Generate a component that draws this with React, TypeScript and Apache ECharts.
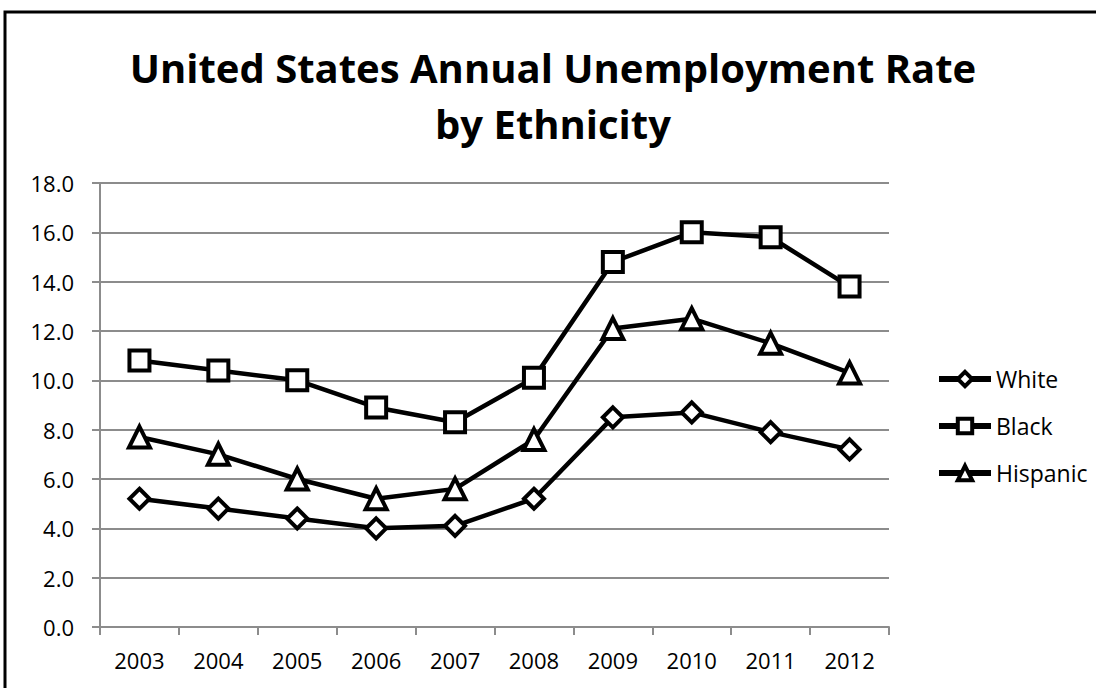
import React, { useEffect, useRef } from "react";
import * as echarts from "echarts";

const years = ["2003", "2004", "2005", "2006", "2007", "2008", "2009", "2010", "2011", "2012"];
const white = [5.2, 4.8, 4.4, 4.0, 4.1, 5.2, 8.5, 8.7, 7.9, 7.2];
const black = [10.8, 10.4, 10.0, 8.9, 8.3, 10.1, 14.8, 16.0, 15.8, 13.8];
const hispanic = [7.7, 7.0, 6.0, 5.2, 5.6, 7.6, 12.1, 12.5, 11.5, 10.3];

const FONT = "'Open Sans', 'Noto Sans', sans-serif";

export default function App() {
  const ref = useRef<HTMLDivElement>(null);
  useEffect(() => {
    if (!ref.current) return;
    const chart = echarts.init(ref.current, null, { renderer: "svg" });
    const mk = (name: string, data: number[], symbol: string, size: number) => ({
      name,
      type: "line",
      data,
      symbol,
      symbolSize: size,
      showAllSymbol: true,
      lineStyle: { color: "#000", width: 4.5 },
      itemStyle: { color: "#fff", borderColor: "#000", borderWidth: 4 },
      emphasis: { disabled: true },
    });
    chart.setOption({
      animation: false,
      backgroundColor: "#fff",
      graphic: [
        {
          type: "rect",
          shape: { x: 5, y: 12, width: 1200, height: 800 },
          style: { fill: "none", stroke: "#000", lineWidth: 3 },
          silent: true,
        },
      ],
      title: {
        text: "United States Annual Unemployment Rate\nby Ethnicity",
        left: 548,
        textAlign: "center",
        top: 34,
        textStyle: {
          fontFamily: FONT,
          fontWeight: "bold",
          fontSize: 40,
          lineHeight: 56,
          color: "#000",
        },
      },
      legend: {
        orient: "vertical",
        left: 931,
        top: 362,
        itemWidth: 52,
        itemHeight: 18,
        itemGap: 23,
        lineStyle: { color: "#000", width: 6 },
        itemStyle: { color: "#fff", borderColor: "#000", borderWidth: 4 },
        textStyle: { fontFamily: FONT, fontSize: 23, lineHeight: 24, color: "#000" },
        data: ["White", "Black", "Hispanic"],
      },
      grid: { left: 100, right: 207, top: 183, bottom: 61 },
      xAxis: {
        type: "category",
        data: years,
        boundaryGap: true,
        axisLine: { lineStyle: { color: "#8c8c8c", width: 2 } },
        axisTick: { show: true, length: 8, lineStyle: { color: "#8c8c8c", width: 2 } },
        axisLabel: { fontFamily: FONT, fontSize: 22, color: "#000", margin: 22 },
      },
      yAxis: {
        type: "value",
        min: 0,
        max: 18,
        interval: 2,
        axisLine: { show: true, lineStyle: { color: "#8c8c8c", width: 2 } },
        axisTick: { show: true, length: 8, lineStyle: { color: "#8c8c8c", width: 2 } },
        splitLine: { lineStyle: { color: "#8c8c8c", width: 2 } },
        axisLabel: {
          fontFamily: FONT,
          fontSize: 22,
          color: "#000",
          margin: 26,
          formatter: (v: number) => v.toFixed(1),
        },
      },
      series: [
        mk("White", white, "diamond", 20),
        mk("Black", black, "rect", 20),
        mk("Hispanic", hispanic, "triangle", 21),
      ],
    });
    return () => chart.dispose();
  }, []);
  return <div ref={ref} style={{ width: 1096, height: 688, position: "absolute", left: 0, top: 0 }} />;
}
